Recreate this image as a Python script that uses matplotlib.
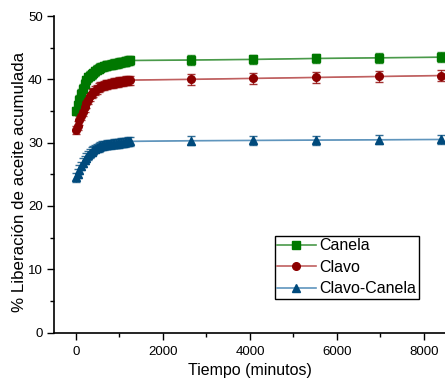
import matplotlib
matplotlib.use("Agg")
import matplotlib.pyplot as plt
import numpy as np
from matplotlib.patches import Rectangle

plt.rcParams['font.family'] = ['Liberation Sans', 'DejaVu Sans']

# release data (minutes, % accumulated oil released)
t_fast = [0, 40, 80, 120, 160, 200, 240, 280, 320, 360, 400, 440, 480, 520, 560,
          600, 640, 680, 720, 760, 800, 840, 880, 920, 960, 1000, 1040, 1080,
          1120, 1160, 1200, 1240]
t_slow = [2640, 4080, 5520, 6960, 8400]

canela_fast = [35.0, 35.9, 36.8, 37.7, 38.5, 39.3, 39.9, 40.3, 40.6, 40.8, 41.0,
               41.25, 41.5, 41.7, 41.85, 41.95, 42.05, 42.12, 42.2, 42.27, 42.33,
               42.4, 42.45, 42.5, 42.56, 42.62, 42.68, 42.74, 42.8, 42.86, 42.92,
               42.98]
canela_slow = [43.05, 43.15, 43.3, 43.4, 43.5]
canela_err = [0.75, 0.75, 0.75, 0.8, 0.8]

clavo_fast = [32.0, 32.7, 33.5, 34.2, 34.9, 35.6, 36.2, 36.8, 37.3, 37.7, 37.95,
              38.2, 38.45, 38.7, 38.85, 38.95, 39.05, 39.12, 39.2, 39.26, 39.32,
              39.38, 39.44, 39.5, 39.55, 39.6, 39.65, 39.7, 39.74, 39.8, 39.84,
              39.88]
clavo_slow = [40.0, 40.15, 40.3, 40.45, 40.6]
clavo_err = [0.9, 0.9, 0.9, 0.9, 0.9]

mezcla_fast = [24.5, 25.1, 25.7, 26.3, 26.8, 27.25, 27.65, 28.0, 28.3, 28.55, 28.8,
               29.0, 29.15, 29.3, 29.42, 29.5, 29.57, 29.63, 29.68, 29.72, 29.75,
               29.78, 29.81, 29.85, 29.88, 29.92, 29.96, 30.0, 30.05, 30.1, 30.15,
               30.2]
mezcla_slow = [30.3, 30.35, 30.4, 30.45, 30.5]
mezcla_err = [0.7, 0.7, 0.7, 0.7, 0.7]

fast_err = 0.7

W, H, DPI = 4.45, 3.82, 100
AX_POS = [0.1213, 0.1295, 0.8787, 0.8285]
XLIM = (-506, 8483)
YLIM = (0, 50)

series = [
    ("Canela", canela_fast, canela_slow, canela_err, 's', '#007800', '#4a9a4a'),
    ("Clavo", clavo_fast, clavo_slow, clavo_err, 'o', '#8c0000', '#c06060'),
    ("Clavo-Canela", mezcla_fast, mezcla_slow, mezcla_err, '^', '#004a7c', '#5f95bd'),
]


def gauss_blur(a, sigma):
    r = int(3 * sigma)
    k = np.exp(-0.5 * (np.arange(-r, r + 1) / sigma) ** 2)
    k /= k.sum()
    a = np.apply_along_axis(np.convolve, 0, a, k, mode='same')
    a = np.apply_along_axis(np.convolve, 1, a, k, mode='same')
    return a


fig = plt.figure(figsize=(W, H), dpi=DPI)
fig.patch.set_alpha(0)
ax = fig.add_axes(AX_POS)
ax.patch.set_facecolor('none')

handles = []
for label, yf, y_slow, es, mk, dark, light in series:
    t = t_fast + t_slow
    y = yf + y_slow
    err = [fast_err] * len(yf) + es
    ax.errorbar(t, y, yerr=err, fmt='none', ecolor=dark, elinewidth=1,
                capsize=3, capthick=1, alpha=0.8, zorder=3)
    h, = ax.plot(t, y, color=light, lw=1.2, marker=mk, ms=5.5,
                 mfc=dark, mec=dark, zorder=4, label=label)
    ax.plot([t_fast[-1]] + t_slow, [yf[-1]] + y_slow, color=dark, lw=0.6,
            alpha=0.5, zorder=3)
    handles.append(h)

ax.set_xlim(*XLIM)
ax.set_ylim(*YLIM)
ax.set_xticks([0, 2000, 4000, 6000, 8000])
ax.set_xticks(np.arange(0, 8500, 1000), minor=True)
ax.set_yticks([0, 10, 20, 30, 40, 50])
ax.set_yticks(np.arange(0, 51, 5), minor=True)
ax.tick_params(which='major', direction='out', length=5, width=1, labelsize=9.5)
ax.tick_params(which='minor', direction='out', length=3, width=1)
ax.tick_params(axis='x', pad=5)
ax.tick_params(axis='y', pad=3)

for side in ('top', 'right'):
    ax.spines[side].set_visible(False)
for side in ('left', 'bottom'):
    ax.spines[side].set_linewidth(1.2)

ax.set_xlabel("Tiempo (minutos)", fontsize=11.5, labelpad=3)
ax.set_ylabel("% Liberación de aceite acumulada", fontsize=12.2)
ax.yaxis.set_label_coords(-0.07, 0.475)

leg = ax.legend(handles=handles, loc='upper left', bbox_to_anchor=(0.565, 0.305),
                borderaxespad=0, fontsize=11.5, handlelength=2.4, handletextpad=0.25,
                labelspacing=0.4, borderpad=0.15, fancybox=False,
                framealpha=1, edgecolor='black')
leg.get_frame().set_linewidth(1.0)

fig.canvas.draw()
leg_bb = leg.get_window_extent()
front = np.array(fig.canvas.buffer_rgba()).astype(float) / 255.0
alpha = front[..., 3:4]
paper = np.ones(front.shape[:2] + (3,))
out = front[..., :3] * alpha + paper * (1 - alpha)

# soft gray shadow: render the shapes on their own, blur, put under the chart
try:
    sfig = plt.figure(figsize=(W, H), dpi=DPI)
    sfig.patch.set_alpha(0)
    sax = sfig.add_axes(AX_POS)
    sax.set_axis_off()
    sax.set_xlim(*XLIM)
    sax.set_ylim(*YLIM)
    for label, yf, y_slow, es, mk, dark, light in series:
        sax.plot(t_fast + t_slow, yf + y_slow, color='k', lw=5, marker=mk, ms=9)
    sax.plot([0, 0, 1], [1, 0, 0], transform=sax.transAxes, color='k', lw=3,
             alpha=0.35, clip_on=False)
    sfig.patches.append(Rectangle((leg_bb.x0, leg_bb.y0), leg_bb.width,
                                  leg_bb.height, transform=None,
                                  facecolor='k', edgecolor='none'))
    sfig.canvas.draw()
    mask = np.array(sfig.canvas.buffer_rgba())[:, :, 3].astype(float) / 255.0
    plt.close(sfig)

    shade = gauss_blur(mask, 6.0) * 0.5
    shade = np.clip(np.roll(shade, (3, 2), axis=(0, 1)), 0, 1)
    shaded = front[..., :3] * alpha + paper * (1 - shade[..., None]) * (1 - alpha)

    # keep the shadow only if it sits where the lines are
    px, py = ax.transData.transform((6000, 30.45))
    row, col = int(round(front.shape[0] - py)) - 12, int(round(px))
    if shade[:, :20].max() < 0.02 and shaded[row, col].mean() < 0.97:
        out = shaded
except Exception:
    pass

plt.imsave("out.png", np.clip(out, 0, 1))
